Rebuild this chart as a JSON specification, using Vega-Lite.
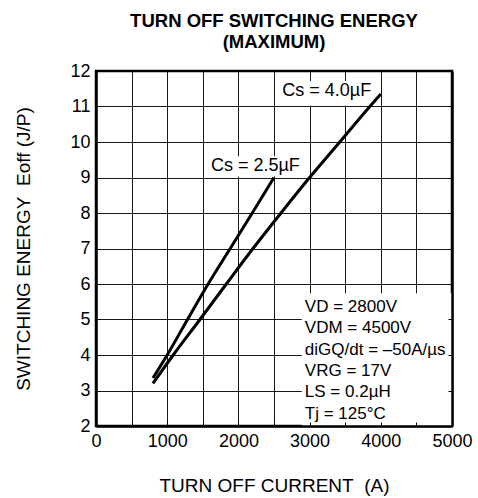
{
  "$schema": "https://vega.github.io/schema/vega-lite/v6.json",
  "width": 356,
  "height": 355,
  "autosize": "none",
  "padding": {"left": 96, "top": 71, "right": 26, "bottom": 72},
  "background": "white",
  "config": {"view": {"stroke": "black", "strokeWidth": 2.5}, "font": "Liberation Sans"},
  "title": {"text": ["TURN OFF SWITCHING ENERGY", "(MAXIMUM)"], "fontSize": 18.5, "fontWeight": "bold", "font": "Liberation Sans", "color": "black", "anchor": "middle", "lineHeight": 21, "offset": 11},
  "datasets": {
    "curves": [
      {"series": "2.5", "current": 800, "energy": 3.35},
      {"series": "2.5", "current": 1000, "energy": 4.0},
      {"series": "2.5", "current": 1285, "energy": 5.0},
      {"series": "2.5", "current": 1575, "energy": 6.0},
      {"series": "2.5", "current": 1885, "energy": 7.0},
      {"series": "2.5", "current": 2195, "energy": 8.0},
      {"series": "2.5", "current": 2500, "energy": 9.0},
      {"series": "4.0", "current": 800, "energy": 3.2},
      {"series": "4.0", "current": 1085, "energy": 4.0},
      {"series": "4.0", "current": 1460, "energy": 5.0},
      {"series": "4.0", "current": 1830, "energy": 6.0},
      {"series": "4.0", "current": 2205, "energy": 7.0},
      {"series": "4.0", "current": 2598, "energy": 8.0},
      {"series": "4.0", "current": 3000, "energy": 9.0},
      {"series": "4.0", "current": 3424, "energy": 10.0},
      {"series": "4.0", "current": 3846, "energy": 11.0},
      {"series": "4.0", "current": 4000, "energy": 11.35}
    ]
  },
  "layer": [
    {
      "data": {"values": [{}]},
      "mark": {"type": "rect", "color": "white"},
      "encoding": {
        "x": {"datum": 2890, "type": "quantitative", "scale": {"domain": [0, 5000], "nice": false, "zero": false},
          "axis": {"orient": "bottom", "values": [0, 500, 1000, 1500, 2000, 2500, 3000, 3500, 4000, 4500, 5000], "grid": true, "gridColor": "black", "gridWidth": 1, "gridOpacity": 0.9, "labels": false, "ticks": false, "domain": false, "title": null, "zindex": 0}},
        "x2": {"datum": 5000},
        "y": {"datum": 2, "type": "quantitative", "scale": {"domain": [2, 12], "nice": false, "zero": false},
          "axis": {"orient": "left", "values": [2, 3, 4, 5, 6, 7, 8, 9, 10, 11, 12], "grid": true, "gridColor": "black", "gridWidth": 1, "gridOpacity": 0.9, "labels": false, "ticks": false, "domain": false, "title": null, "zindex": 0}},
        "y2": {"datum": 5.74}
      }
    },
    {
      "data": {"values": [{}]},
      "mark": {"type": "rect", "color": "white"},
      "encoding": {
        "x": {"datum": 1620, "type": "quantitative", "axis": null},
        "x2": {"datum": 2860},
        "y": {"datum": 9.03, "type": "quantitative", "axis": null},
        "y2": {"datum": 9.6}
      }
    },
    {
      "data": {"values": [{}]},
      "mark": {"type": "rect", "color": "white"},
      "encoding": {
        "x": {"datum": 2610, "type": "quantitative", "axis": null},
        "x2": {"datum": 3880},
        "y": {"datum": 11.03, "type": "quantitative",
          "axis": {"orient": "right", "values": [2, 3, 4, 5, 6, 7, 8, 9, 10, 11, 12], "labels": false, "title": null, "grid": false, "tickSize": -4, "tickColor": "black", "tickWidth": 1, "domainColor": "black", "domainWidth": 2.5, "zindex": 1}},
        "y2": {"datum": 11.72}
      }
    },
    {
      "data": {"name": "curves"},
      "mark": {"type": "line", "color": "black", "strokeWidth": 3, "interpolate": "monotone"},
      "encoding": {
        "x": {"field": "current", "type": "quantitative",
          "axis": {"orient": "bottom", "values": [0, 500, 1000, 1500, 2000, 2500, 3000, 3500, 4000, 4500, 5000], "format": "d", "labelExpr": "datum.value % 1000 === 0 ? datum.label : ''", "grid": false, "tickSize": -4, "tickColor": "black", "tickWidth": 1, "domainColor": "black", "domainWidth": 2.5, "labelFont": "Liberation Sans", "labelFontSize": 18, "labelColor": "black", "labelPadding": 10, "labelFlush": false, "labelOverlap": false, "labelBound": false, "title": "TURN OFF CURRENT\u00a0 (A)", "titleFont": "Liberation Sans", "titleFontSize": 19, "titleFontWeight": "normal", "titleColor": "black", "titlePadding": 26, "zindex": 1}},
        "y": {"field": "energy", "type": "quantitative",
          "axis": {"orient": "left", "values": [2, 3, 4, 5, 6, 7, 8, 9, 10, 11, 12], "grid": false, "tickSize": -4, "tickColor": "black", "tickWidth": 1, "domainColor": "black", "domainWidth": 2.5, "labelFont": "Liberation Sans", "labelFontSize": 18, "labelColor": "black", "labelPadding": 10, "labelFlush": false, "labelOverlap": false, "labelBound": false, "title": "SWITCHING ENERGY\u00a0 Eoff (J/P)", "titleFont": "Liberation Sans", "titleFontSize": 19, "titleFontWeight": "normal", "titleColor": "black", "titlePadding": 36, "zindex": 1}},
        "detail": {"field": "series", "type": "nominal"}
      }
    },
    {
      "data": {"values": [{}]},
      "mark": {"type": "text", "text": "Cs = 2.5µF", "font": "Liberation Sans", "fontSize": 18, "color": "black", "align": "center", "baseline": "middle"},
      "encoding": {
        "x": {"datum": 2238, "type": "quantitative", "axis": null},
        "y": {"datum": 9.33, "type": "quantitative", "axis": null}
      }
    },
    {
      "data": {"values": [{}]},
      "mark": {"type": "text", "text": "Cs = 4.0µF", "font": "Liberation Sans", "fontSize": 18, "color": "black", "align": "center", "baseline": "middle"},
      "encoding": {
        "x": {"datum": 3241, "type": "quantitative", "axis": null},
        "y": {"datum": 11.44, "type": "quantitative", "axis": null}
      }
    },
    {
      "data": {"values": [{}]},
      "mark": {"type": "text", "text": ["VD = 2800V", "VDM = 4500V", "diGQ/dt = –50A/µs", "VRG = 17V", "LS = 0.2µH", "Tj = 125°C"], "font": "Liberation Sans", "fontSize": 17, "lineHeight": 21.3, "color": "black", "align": "left", "baseline": "middle"},
      "encoding": {
        "x": {"datum": 2933, "type": "quantitative", "axis": null},
        "y": {"datum": 5.35, "type": "quantitative", "axis": null}
      }
    }
  ],
  "resolve": {"axis": {"x": "independent", "y": "independent"}}
}
